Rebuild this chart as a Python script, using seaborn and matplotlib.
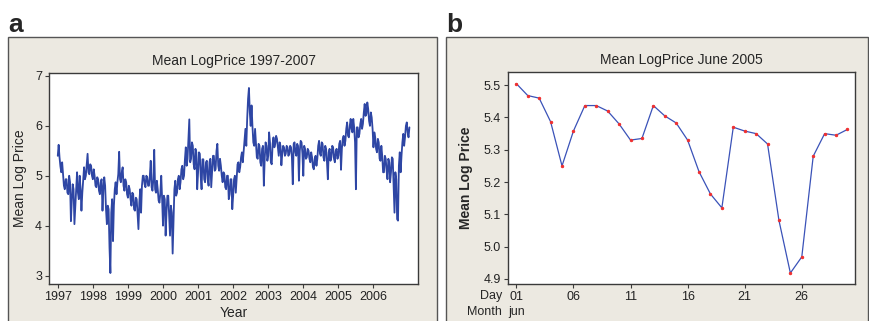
import numpy as np
import pandas as pd
import matplotlib
matplotlib.use("Agg")
import matplotlib.pyplot as plt
from matplotlib.patches import Rectangle
import seaborn as sns

# ---------------- data ----------------
# Panel a: mean log price 1997-2007, read as low/high envelope every 0.05 year
start_year = 1997.0
step_year = 0.05
hi_a = [5.62, 5.37, 5.27, 5.03, 4.93, 4.93, 5.00, 4.87, 4.83, 4.73,
        4.73, 5.07, 5.00, 4.73, 4.93, 5.17, 5.23, 5.44, 5.23, 5.20,
        5.13, 5.00, 4.97, 4.93, 4.87, 4.93, 4.97, 4.80, 4.40, 4.33,
        4.26, 4.53, 4.73, 4.87, 5.03, 5.48, 5.07, 5.17, 4.93, 4.87,
        4.80, 4.73, 4.66, 4.63, 4.56, 4.53, 4.46, 4.73, 5.00, 5.00,
        5.00, 4.97, 5.00, 5.30, 4.93, 5.52, 4.90, 4.73, 4.66, 5.00,
        4.60, 4.53, 4.60, 4.60, 4.40, 4.26, 4.73, 4.90, 4.93, 5.00,
        5.13, 5.20, 5.33, 5.57, 5.74, 6.13, 5.67, 5.60, 5.54, 5.47,
        5.47, 5.44, 5.33, 5.33, 5.27, 5.30, 5.27, 5.34, 5.40, 5.40,
        5.50, 5.64, 5.34, 5.20, 5.07, 5.03, 5.00, 5.00, 4.93, 4.93,
        4.93, 5.00, 5.23, 5.27, 5.37, 5.47, 5.74, 5.94, 6.54, 6.76,
        6.41, 6.00, 5.94, 5.67, 5.64, 5.60, 5.54, 5.60, 5.67, 5.60,
        5.87, 5.67, 5.64, 5.77, 5.80, 5.74, 5.67, 5.60, 5.60, 5.57,
        5.60, 5.57, 5.60, 5.57, 5.64, 5.67, 5.64, 5.60, 5.70, 5.67,
        5.60, 5.54, 5.54, 5.50, 5.47, 5.37, 5.34, 5.40, 5.60, 5.70,
        5.67, 5.64, 5.60, 5.54, 5.47, 5.54, 5.60, 5.57, 5.50, 5.54,
        5.64, 5.70, 5.74, 5.80, 5.94, 6.07, 6.00, 6.14, 6.14, 5.97,
        5.97, 5.97, 6.04, 6.14, 6.27, 6.44, 6.47, 6.34, 6.27, 6.17,
        5.87, 5.77, 5.74, 5.67, 5.60, 5.40, 5.40, 5.34, 5.34, 5.27,
        5.37, 5.34, 5.07, 4.93, 5.20, 5.47, 5.67, 5.84, 6.00, 6.07,
        5.97]
lo_a = [5.40, 5.19, 5.07, 4.80, 4.73, 4.66, 4.63, 4.09, 4.50, 4.03,
        4.40, 4.66, 4.53, 4.30, 4.66, 4.93, 5.00, 5.07, 5.03, 5.00,
        4.93, 4.80, 4.77, 4.70, 4.63, 4.30, 4.73, 4.33, 4.03, 3.56,
        3.05, 3.69, 4.40, 4.63, 4.87, 4.93, 4.87, 4.80, 4.70, 4.63,
        4.56, 4.53, 4.40, 4.33, 4.30, 4.23, 3.93, 4.26, 4.80, 4.83,
        4.77, 4.80, 4.80, 4.77, 4.70, 4.73, 4.66, 4.50, 4.46, 4.53,
        4.00, 3.80, 4.26, 4.20, 3.80, 3.44, 4.06, 4.60, 4.66, 4.73,
        4.87, 4.93, 5.00, 5.20, 5.34, 5.27, 5.34, 5.23, 5.13, 4.73,
        5.07, 5.00, 4.73, 4.93, 4.87, 4.93, 4.80, 4.77, 5.07, 5.10,
        5.13, 5.20, 5.10, 5.00, 4.87, 4.77, 4.73, 4.53, 4.63, 4.33,
        4.60, 4.66, 4.93, 5.07, 5.17, 5.27, 5.50, 5.60, 6.14, 6.27,
        6.00, 5.67, 5.60, 5.37, 5.34, 5.27, 5.20, 4.80, 5.34, 5.30,
        5.40, 5.27, 5.23, 5.57, 5.64, 5.57, 5.40, 5.21, 5.44, 5.40,
        5.44, 5.40, 5.44, 5.37, 4.83, 5.47, 5.40, 4.90, 5.50, 5.44,
        5.00, 5.34, 5.37, 5.34, 5.27, 5.17, 5.13, 5.20, 5.34, 5.44,
        5.40, 5.37, 5.30, 5.27, 4.93, 5.30, 5.37, 5.34, 5.27, 5.34,
        5.40, 5.12, 5.54, 5.60, 5.70, 5.80, 5.77, 5.94, 5.87, 5.67,
        4.73, 5.77, 5.84, 5.94, 6.04, 6.20, 6.24, 6.10, 6.00, 5.94,
        5.57, 5.54, 5.47, 5.34, 5.30, 5.07, 5.07, 5.10, 4.93, 4.87,
        5.07, 4.80, 4.26, 4.13, 4.10, 5.07, 5.40, 5.60, 5.77, 5.87,
        5.77]
year_ticks = [1997, 1998, 1999, 2000, 2001, 2002, 2003, 2004, 2005, 2006]
a_yticks = [3, 4, 5, 6, 7]

# Panel b: June 2005 daily values
days = list(range(1, 31))
june_vals = [5.505, 5.468, 5.460, 5.387, 5.250, 5.358, 5.437, 5.437, 5.420, 5.380,
             5.330, 5.335, 5.437, 5.405, 5.383, 5.330, 5.232, 5.163, 5.120, 5.370,
             5.358, 5.350, 5.318, 5.081, 4.918, 4.968, 5.280, 5.350, 5.345, 5.363]
day_ticks = [1, 6, 11, 16, 21, 26]
day_labels = ["01", "06", "11", "16", "21", "26"]
b_yticks = [4.9, 5.0, 5.1, 5.2, 5.3, 5.4, 5.5]

# ---------------- figure ----------------
sns.set_style("white")
plt.rcParams["font.family"] = ["Liberation Sans", "DejaVu Sans"]

W, H = 869, 321
fig = plt.figure(figsize=(W / 100, H / 100), dpi=100)
fig.patch.set_facecolor("white")

beige = "#ECE9E1"
bg = fig.add_axes([0, 0, 1, 1], zorder=-10)
bg.set_xlim(0, W)
bg.set_ylim(H, 0)
bg.axis("off")
bg.add_patch(Rectangle((8, 37), 429, 300, facecolor=beige,
                       edgecolor="#555555", lw=1.0))
bg.add_patch(Rectangle((446, 37), 422, 300, facecolor=beige,
                       edgecolor="#555555", lw=1.0))

fig.text(8 / W, 1 - 32 / H, "a", fontsize=19, fontweight="bold", ha="left",
         va="baseline")
fig.text(446 / W, 1 - 32 / H, "b", fontsize=19, fontweight="bold", ha="left",
         va="baseline")

# ---- panel a ----
axa = fig.add_axes([49 / W, (321 - 284) / H, 369 / W, 211 / H])
tt, vv = [], []
for k in range(len(hi_a)):
    t = start_year + step_year * k
    if k % 2 == 0:
        tt += [t, t + step_year / 2]
        vv += [lo_a[k], hi_a[k]]
    else:
        tt += [t, t + step_year / 2]
        vv += [hi_a[k], lo_a[k]]
dfa = pd.DataFrame({"Year": tt, "Mean Log Price": vv})
sns.lineplot(data=dfa, x="Year", y="Mean Log Price", ax=axa, sort=False,
             estimator=None, color="#2E46A4", lw=1.3)
axa.set_xlim(1996.75, 2007.27)
axa.set_ylim(2.83, 7.06)
axa.set_xticks(year_ticks)
axa.set_xticklabels([str(y) for y in year_ticks])
axa.set_yticks(a_yticks)
axa.set_title("Mean LogPrice 1997-2007", fontsize=10, pad=6)
axa.set_xlabel("Year", fontsize=10, labelpad=2)
axa.set_ylabel("Mean Log Price", fontsize=10, labelpad=6)

# ---- panel b ----
axb = fig.add_axes([508 / W, (321 - 284) / H, 347 / W, 212 / H])
dfb = pd.DataFrame({"Day": days, "Mean Log Price": june_vals})
sns.lineplot(data=dfb, x="Day", y="Mean Log Price", ax=axb, color="#3A52B8",
             lw=0.9, marker="o", markersize=1.7, markerfacecolor="#F03030",
             markeredgecolor="#F03030")
axb.set_xlim(0.27, 30.66)
axb.set_ylim(4.884, 5.541)
axb.set_xticks(day_ticks)
axb.set_xticklabels(day_labels)
axb.set_yticks(b_yticks)
axb.set_yticklabels([f"{v:.1f}" for v in b_yticks])
axb.set_title("Mean LogPrice June 2005", fontsize=10, pad=6)
axb.set_xlabel("")
axb.set_ylabel("Mean Log Price", fontsize=10, fontweight="bold", labelpad=8)
fig.text(502 / W, 1 - 296 / H, "Day", fontsize=9, ha="right", va="center")
fig.text(502 / W, 1 - 312 / H, "Month", fontsize=9, ha="right", va="center")
fig.text(508 / W, 1 - 312 / H, "jun", fontsize=9, ha="left", va="center")

for ax in (axa, axb):
    ax.set_facecolor("white")
    for s in ax.spines.values():
        s.set_visible(True)
        s.set_color("#3a3a3a")
        s.set_linewidth(1.0)
    ax.tick_params(axis="both", which="major", direction="out", length=3,
                   width=0.8, color="#3a3a3a", labelsize=9, pad=2,
                   bottom=True, left=True, top=False, right=False,
                   labelcolor="#222222")

fig.savefig("out.png", dpi=100)
